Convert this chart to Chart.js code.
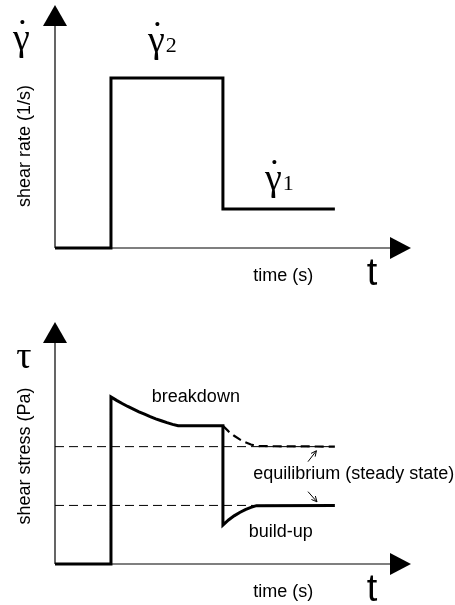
<!DOCTYPE html>
<html>
<head>
<meta charset="utf-8">
<script src="https://cdn.jsdelivr.net/npm/chart.js@4.4.0/dist/chart.umd.min.js"></script>
<style>
  body { margin: 0; background: #fff; }
  canvas { display: block; }
</style>
</head>
<body>
<canvas id="rate-chart" width="455" height="300"></canvas>
<canvas id="stress-chart" width="455" height="305"></canvas>
<script>
// imposed shear rate: rest, high step, low step
const rateTime = [0, 1, 1, 3, 3, 5];
const shearRate = [0, 0, 7, 7, 1.6, 1.6];

// measured stress: overshoot + breakdown, then undershoot + build-up
const stressTime = [0, 1, 1, 1.1, 1.2, 1.3, 1.4, 1.5, 1.6, 1.7, 1.8, 1.9, 2.0, 2.1, 2.2, 3,
                    3, 3.1, 3.2, 3.3, 3.4, 3.5, 3.6, 5];
const shearStress = [0, 0, 6.9, 6.76, 6.63, 6.51, 6.4, 6.29, 6.19, 6.09, 6.0, 5.92, 5.84, 5.77, 5.71, 5.71,
                     1.61, 1.82, 1.99, 2.13, 2.25, 2.34, 2.41, 2.42];

// what the stress would have done had the high rate been kept
const keptTime = [3, 3.1, 3.2, 3.3, 3.4, 3.5, 3.6, 5];
const keptStress = [5.71, 5.48, 5.3, 5.15, 5.03, 4.94, 4.87, 4.85];

// steady-state stress levels for the two rates
const equilibriumStress = [4.85, 2.42];
const equilibriumSpan = [0, 5];

const xMax = 6.36;
const yMax = 10;

const sans = '"Liberation Sans", Arial, sans-serif';
const serif = '"Liberation Serif", "Times New Roman", serif';

const pts = (xs, ys) => xs.map((x, i) => ({ x, y: ys[i] }));

// gamma with an overdot, optional index digit to its right
function drawRateSymbol(ctx, left, baseline, size, sub) {
  ctx.font = size + 'px ' + serif;
  ctx.textAlign = 'left';
  ctx.fillText('γ', left, baseline);
  const w = ctx.measureText('γ').width;
  ctx.textAlign = 'center';
  ctx.fillText('˙', left + w / 2 + 1, baseline - size * 0.12);
  if (sub) {
    ctx.textAlign = 'left';
    ctx.font = Math.round(size * 0.58) + 'px ' + serif;
    ctx.fillText(sub, left + w + 1, baseline);
  }
}

// hand-drawn style axes with filled arrowheads, plus free text labels
const sketchAxes = {
  id: 'sketchAxes',
  beforeDatasetsDraw(chart) {
    const { ctx, chartArea: a } = chart;
    ctx.save();
    ctx.strokeStyle = '#000';
    ctx.fillStyle = '#000';
    ctx.lineWidth = 1.2;
    ctx.beginPath();
    ctx.moveTo(a.left, a.bottom);
    ctx.lineTo(a.left, a.top + 18);
    ctx.moveTo(a.left, a.bottom);
    ctx.lineTo(a.right - 18, a.bottom);
    ctx.stroke();
    ctx.beginPath();
    ctx.moveTo(a.left, a.top);
    ctx.lineTo(a.left - 12, a.top + 21);
    ctx.lineTo(a.left + 12, a.top + 21);
    ctx.closePath();
    ctx.fill();
    ctx.beginPath();
    ctx.moveTo(a.right, a.bottom);
    ctx.lineTo(a.right - 21, a.bottom - 11);
    ctx.lineTo(a.right - 21, a.bottom + 11);
    ctx.closePath();
    ctx.fill();
    ctx.restore();
  },
  afterDraw(chart, args, opts) {
    const { ctx, chartArea: a, scales: { x, y } } = chart;
    ctx.save();
    ctx.fillStyle = '#000';
    ctx.strokeStyle = '#000';

    // axis titles
    ctx.font = '18px ' + sans;
    ctx.textBaseline = 'alphabetic';
    ctx.textAlign = 'left';
    ctx.fillText('time (s)', x.getPixelForValue(3.54), a.bottom + 33);
    ctx.font = '38px ' + sans;
    ctx.fillText('t', x.getPixelForValue(5.57), a.bottom + 37);

    ctx.save();
    ctx.translate(25, y.getPixelForValue(opts.yTitleAt));
    ctx.rotate(-Math.PI / 2);
    ctx.font = '18px ' + sans;
    ctx.textAlign = 'center';
    ctx.textBaseline = 'middle';
    ctx.fillText(opts.yTitle, 0, 0);
    ctx.restore();

    // axis symbol
    if (opts.symbol === 'rate') {
      drawRateSymbol(ctx, 13, y.getPixelForValue(opts.symbolAt), 38);
    } else {
      ctx.textAlign = 'center';
      ctx.font = opts.symbolFont;
      ctx.fillText(opts.symbol, 24, y.getPixelForValue(opts.symbolAt));
    }

    // in-plot labels
    (opts.rateLabels || []).forEach(l => {
      drawRateSymbol(ctx, x.getPixelForValue(l.t), y.getPixelForValue(l.v), 38, l.sub);
    });
    ctx.textAlign = 'left';
    (opts.labels || []).forEach(l => {
      ctx.font = l.font;
      ctx.fillText(l.text, x.getPixelForValue(l.t), y.getPixelForValue(l.v));
    });

    // small pointer arrows
    ctx.lineWidth = 1;
    (opts.pointers || []).forEach(p => {
      const x0 = x.getPixelForValue(p.from[0]), y0 = y.getPixelForValue(p.from[1]);
      const x1 = x.getPixelForValue(p.to[0]), y1 = y.getPixelForValue(p.to[1]);
      const ang = Math.atan2(y1 - y0, x1 - x0);
      ctx.beginPath();
      ctx.moveTo(x0, y0);
      ctx.lineTo(x1, y1);
      ctx.moveTo(x1 - 6 * Math.cos(ang - 0.45), y1 - 6 * Math.sin(ang - 0.45));
      ctx.lineTo(x1, y1);
      ctx.lineTo(x1 - 6 * Math.cos(ang + 0.45), y1 - 6 * Math.sin(ang + 0.45));
      ctx.stroke();
    });
    ctx.restore();
  }
};

function baseOptions(padding, extra) {
  return {
    responsive: false,
    animation: false,
    devicePixelRatio: 1,
    layout: { padding },
    events: [],
    plugins: {
      legend: { display: false },
      tooltip: { enabled: false },
      sketchAxes: extra
    },
    scales: {
      x: { type: 'linear', min: 0, max: xMax, display: false },
      y: { type: 'linear', min: 0, max: yMax, display: false }
    }
  };
}

const solid = {
  borderColor: '#000',
  borderWidth: 3,
  pointRadius: 0,
  tension: 0,
  clip: false,
  borderJoinStyle: 'miter',
  borderCapStyle: 'butt'
};

new Chart(document.getElementById('rate-chart'), {
  type: 'line',
  data: {
    datasets: [
      { ...solid, data: pts(rateTime, shearRate) }
    ]
  },
  options: baseOptions({ left: 55, right: 44, top: 5, bottom: 52 }, {
    yTitle: 'shear rate (1/s)',
    yTitleAt: 4.2,
    symbol: 'rate',
    symbolAt: 8.15,
    rateLabels: [
      { sub: '2', t: 1.66, v: 8.07 },
      { sub: '1', t: 3.75, v: 2.39 }
    ]
  }),
  plugins: [sketchAxes]
});

new Chart(document.getElementById('stress-chart'), {
  type: 'line',
  data: {
    datasets: [
      { ...solid, data: pts(stressTime, shearStress) },
      { ...solid, borderWidth: 2.2, borderDash: [9, 5], data: pts(keptTime, keptStress) },
      ...equilibriumStress.map(level => ({
        ...solid,
        borderWidth: 1,
        borderDash: [9, 5],
        data: pts(equilibriumSpan, equilibriumSpan.map(() => level))
      }))
    ]
  },
  options: baseOptions({ left: 55, right: 44, top: 22, bottom: 41 }, {
    yTitle: 'shear stress (Pa)',
    yTitleAt: 4.46,
    symbol: 'τ',
    symbolAt: 8.1,
    symbolFont: '38px ' + serif,
    labels: [
      { text: 'breakdown', t: 1.73, v: 6.7, font: '18px ' + sans },
      { text: 'equilibrium (steady state)', t: 3.54, v: 3.5, font: '18px ' + sans },
      { text: 'build-up', t: 3.46, v: 1.13, font: '18px ' + sans }
    ],
    pointers: [
      { from: [4.52, 4.23], to: [4.67, 4.68] },
      { from: [4.52, 2.99], to: [4.68, 2.57] }
    ]
  }),
  plugins: [sketchAxes]
});
</script>
</body>
</html>
